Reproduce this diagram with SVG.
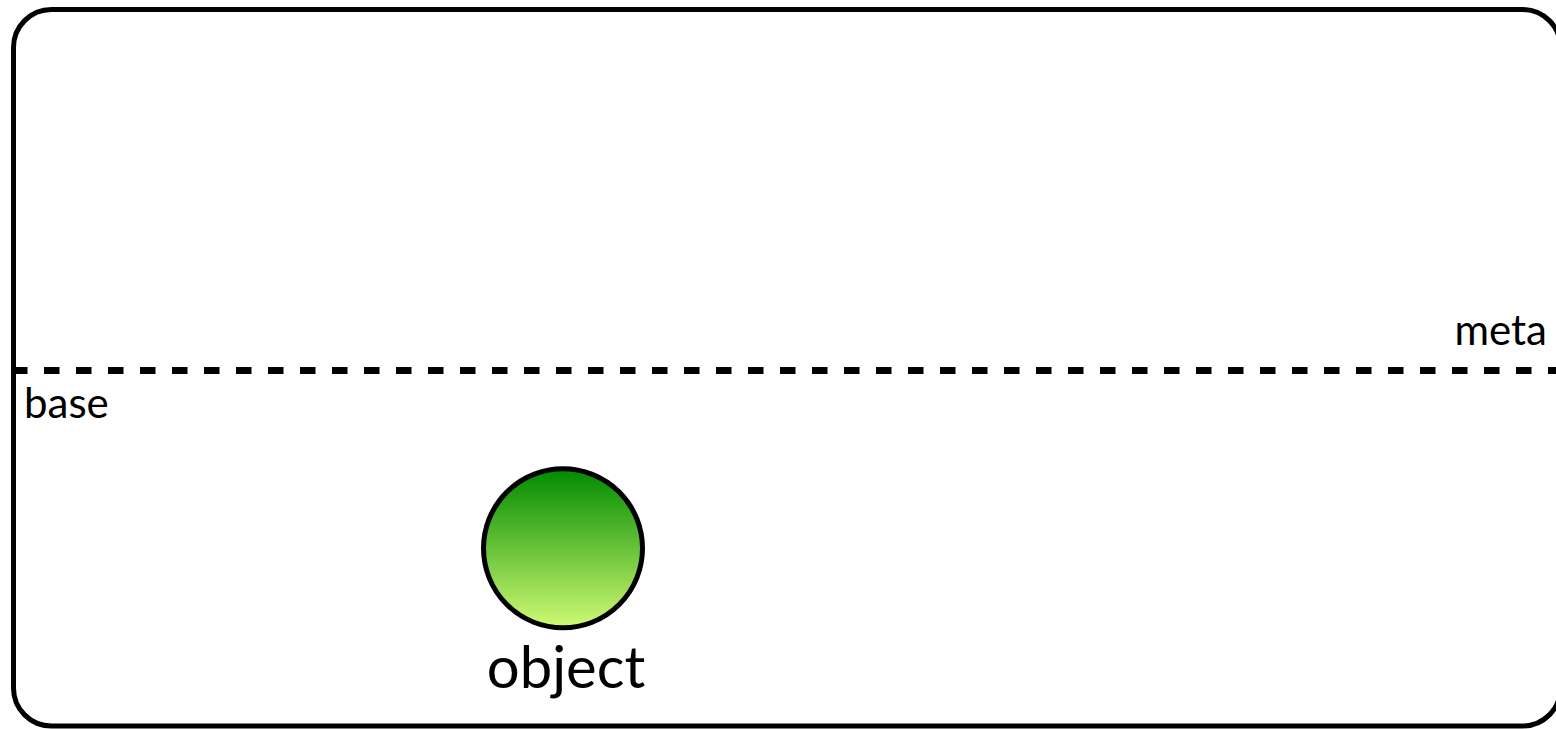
<svg xmlns="http://www.w3.org/2000/svg" width="1556" height="729" viewBox="0 0 1556 729">
  <defs>
    <linearGradient id="greenBall" x1="0" y1="0" x2="0" y2="1">
      <stop offset="0" stop-color="#008a00"/>
      <stop offset="1" stop-color="#d0fa74"/>
    </linearGradient>
  </defs>
  <style>
    .frame { fill: #ffffff; stroke: #000000; stroke-width: 5; }
    .level { fill: none; stroke: #000000; stroke-width: 7; stroke-dasharray: 15.5 16.5; }
    .lbl { font-family: Lato, "Open Sans", "Liberation Sans", sans-serif; fill: #000000; }
    .ball { fill: url(#greenBall); stroke: #000000; stroke-width: 5; }
  </style>

  <!-- outer frame -->
  <rect class="frame" x="13.5" y="9.5" width="1547" height="716.5" rx="38" ry="38"/>

  <!-- meta / base boundary -->
  <g id="connectors">
    <line class="level" x1="12" y1="370.5" x2="1560" y2="370.5"/>
  </g>

  <g id="meta-label">
    <text class="lbl" x="1547" y="345" font-size="42" text-anchor="end">meta</text>
  </g>
  <g id="base-label">
    <text class="lbl" x="24" y="418" font-size="42">base</text>
  </g>

  <!-- object node -->
  <g id="object">
    <circle class="ball" cx="563" cy="548.3" r="79.5"/>
    <text class="lbl" x="566" y="688" font-size="58" text-anchor="middle">object</text>
  </g>
</svg>
